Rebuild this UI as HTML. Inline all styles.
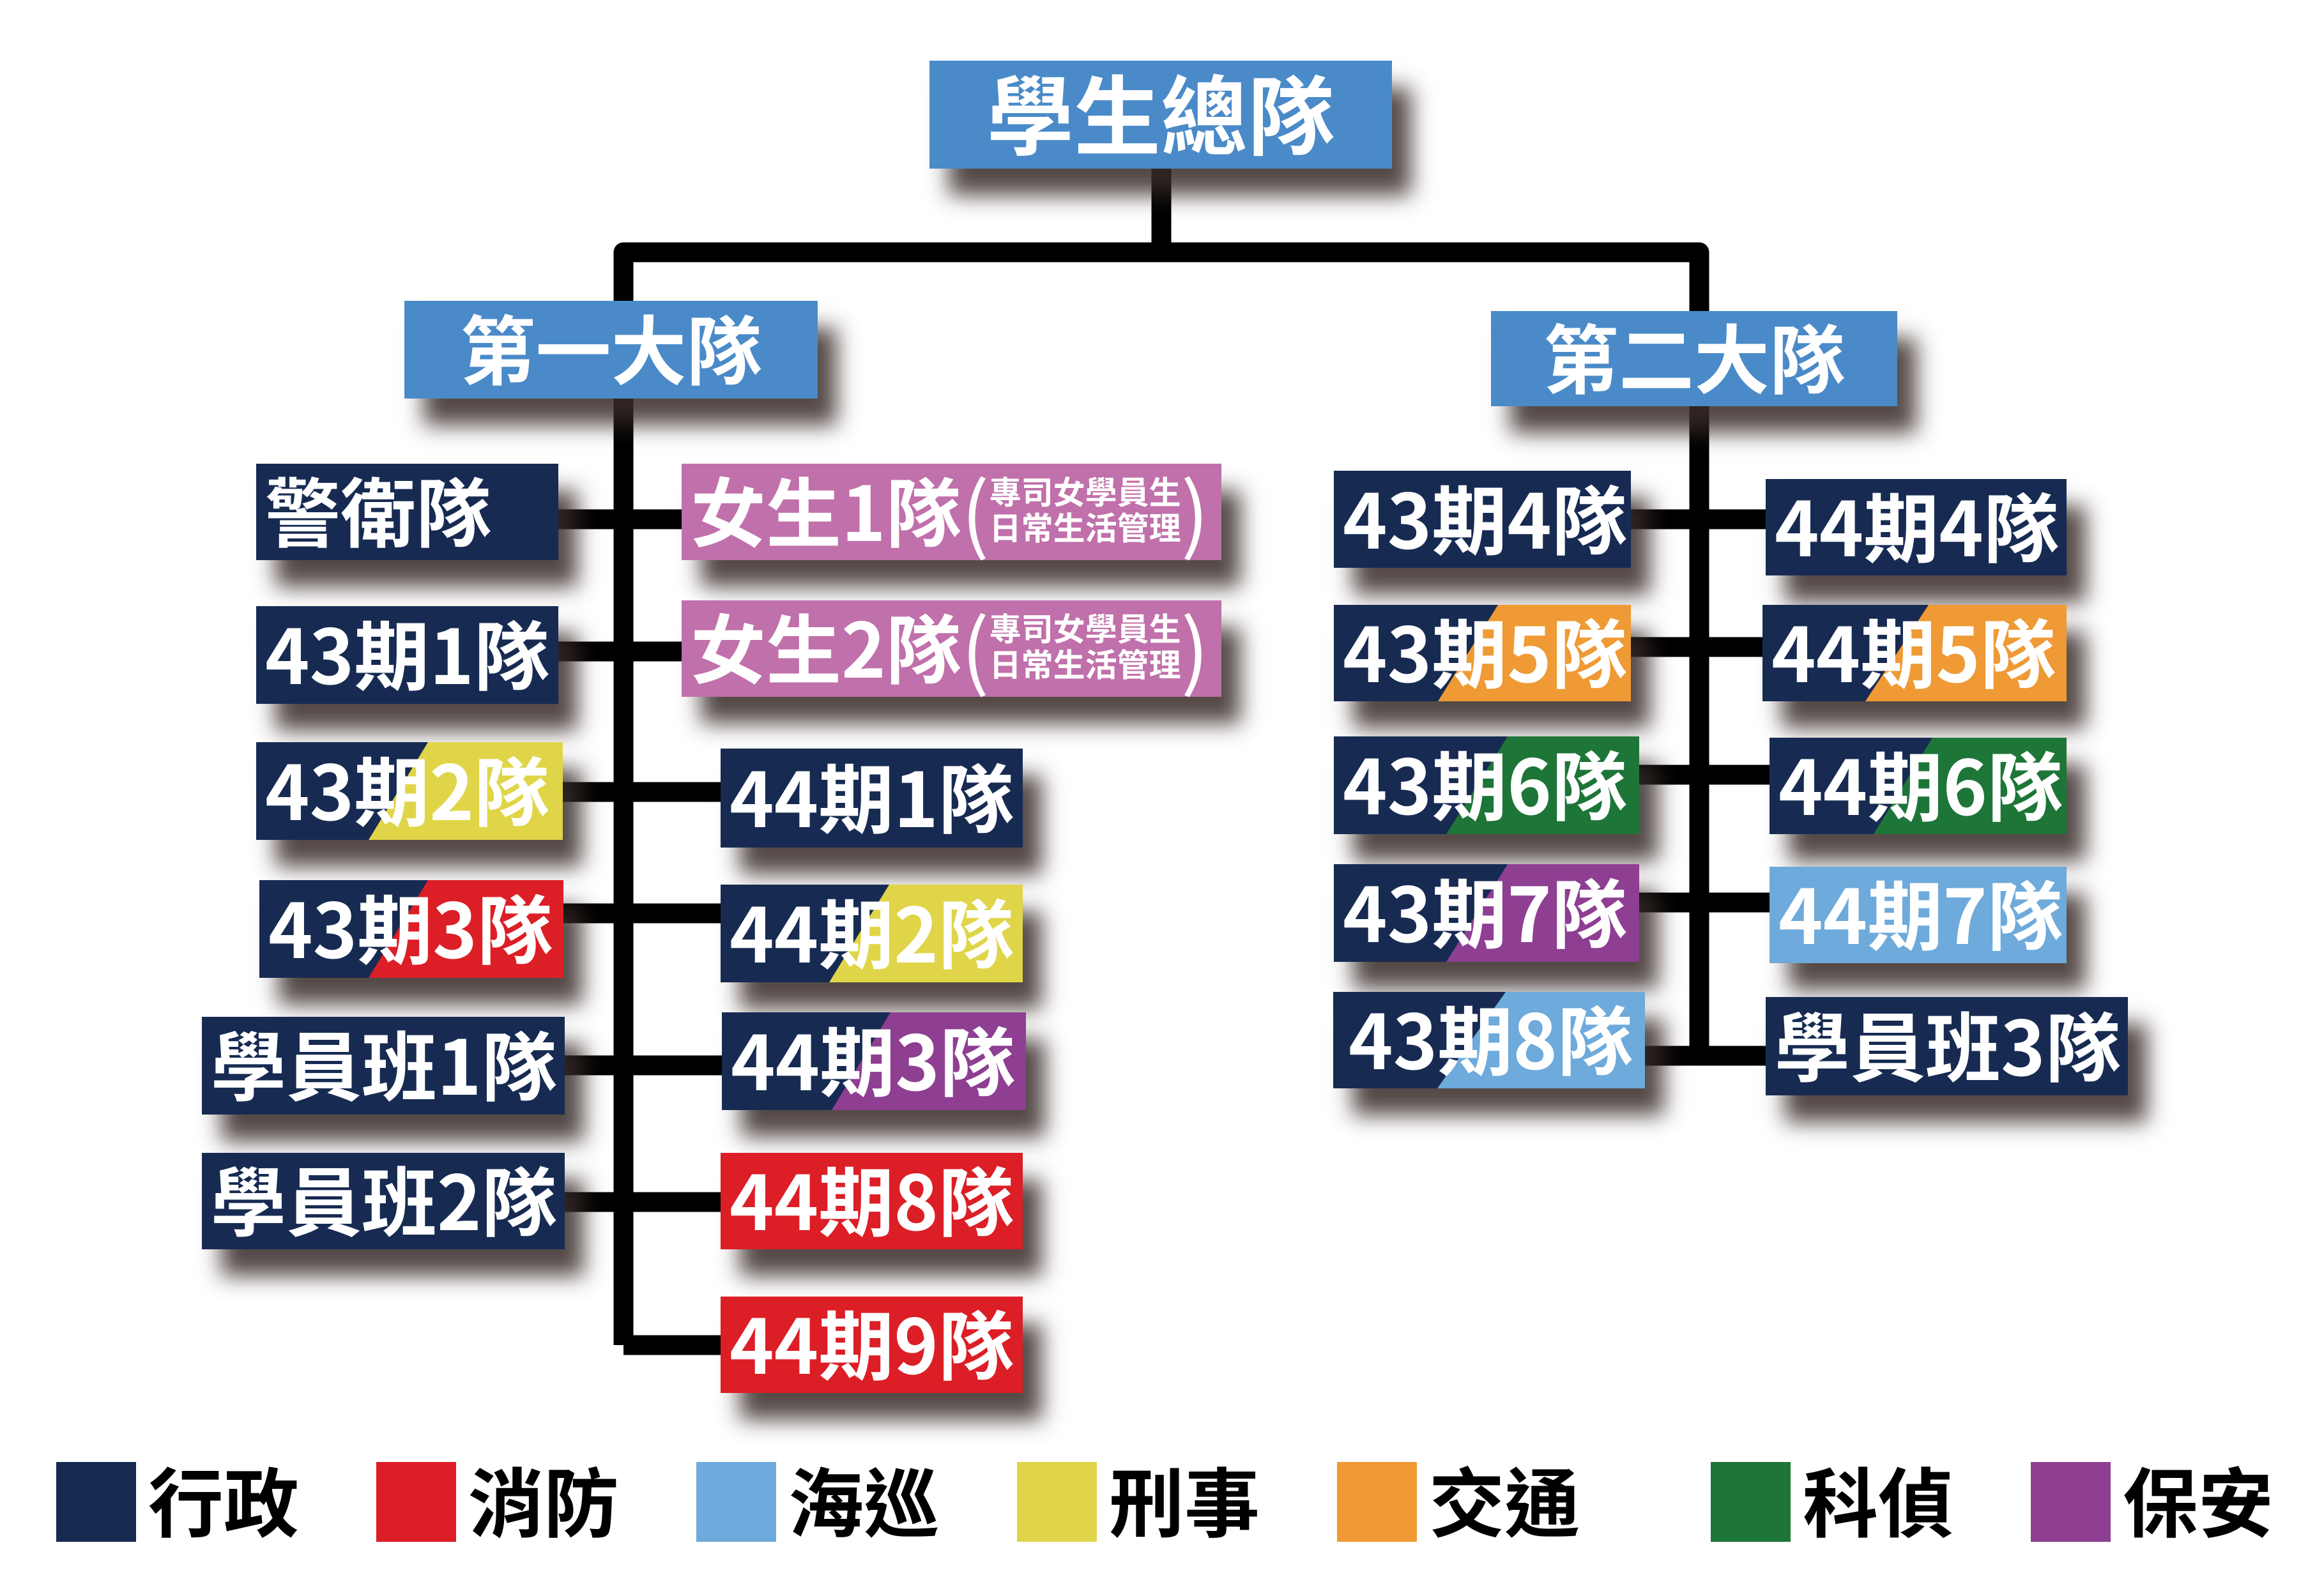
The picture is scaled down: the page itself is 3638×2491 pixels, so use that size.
<!DOCTYPE html>
<html><head><meta charset="utf-8">
<style>
html,body{margin:0;padding:0;background:#fff;}
#c{position:relative;width:3638px;height:2491px;overflow:hidden;background:#fff;font-family:"Liberation Sans","Noto Sans CJK TC",sans-serif;}
.b{position:absolute;box-sizing:border-box;color:#fff;display:flex;align-items:center;padding-left:14px;padding-bottom:12px;white-space:nowrap;box-shadow:30px 42px 32px rgba(55,42,40,0.85);font-family:"Noto Sans CJK TC","Liberation Sans",sans-serif;font-weight:700;font-size:118px;letter-spacing:0px;background:#172b52;overflow:visible;z-index:2;}
.b span.t{position:relative;z-index:2;}
.b .d{position:absolute;top:0;bottom:0;left:0;right:0;z-index:1;}
.hd{justify-content:center;padding-left:0;background:#4a8ac8;letter-spacing:0;}
.lg{position:absolute;top:2289px;width:125px;height:125px;}
.lt{position:absolute;top:2266px;font-family:"Noto Sans CJK TC",sans-serif;font-weight:700;font-size:118px;color:#000;line-height:160px;}
.sm{display:flex;flex-direction:column;font-size:50px;line-height:56px;letter-spacing:0;}
.pr{font-weight:400;font-size:130px;}
</style></head><body><div id="c">
<svg width="3638" height="2491" style="position:absolute;left:0;top:0;z-index:1" fill="none" stroke="#000" stroke-width="31" stroke-linejoin="round">
<path d="M1818 264 V395"/>
<path d="M976 2106 V395 H2660 V1653"/>
<path d="M976 2106 H1128"/>
<path d="M874 813 H1067 M874 1020 H1067 M881 1240 H1128 M882 1430 H1128 M884 1668 H1130 M884 1882 H1128"/>
<path d="M2553 813 H2764 M2553 1013 H2759 M2566 1213 H2772 M2566 1413 H2772 M2575 1653 H2764"/>
</svg>

<div class="b hd" style="left:1455px;top:95px;width:724px;height:169px;font-size:136px;">學生總隊</div>
<div class="b hd" style="left:633px;top:471px;width:647px;height:153px;font-size:118px;">第一大隊</div>
<div class="b hd" style="left:2334px;top:487px;width:636px;height:149px;font-size:118px;">第二大隊</div>

<div class="b" style="left:401px;top:726px;width:473px;height:151px;"><span class="t">警衛隊</span></div>
<div class="b" style="left:401px;top:949px;width:473px;height:153px;"><span class="t">43期1隊</span></div>
<div class="b" style="left:401px;top:1162px;width:480px;height:153px;"><div class="d" style="background:#e0d548;clip-path:polygon(269px 0,100% 0,100% 100%,176px 100%)"></div><span class="t">43期2隊</span></div>
<div class="b" style="left:406px;top:1378px;width:476px;height:153px;"><div class="d" style="background:#dc1e26;clip-path:polygon(264px 0,100% 0,100% 100%,171px 100%)"></div><span class="t">43期3隊</span></div>
<div class="b" style="left:316px;top:1592px;width:568px;height:153px;"><span class="t">學員班1隊</span></div>
<div class="b" style="left:316px;top:1805px;width:568px;height:151px;"><span class="t">學員班2隊</span></div>

<div class="b" style="left:1067px;top:726px;width:845px;height:151px;background:#c070aa;"><span class="t">女生1隊</span><span class="t pr">(</span><span class="t sm"><span>專司女學員生</span><span>日常生活管理</span></span><span class="t pr">)</span></div>
<div class="b" style="left:1067px;top:940px;width:845px;height:151px;background:#c070aa;"><span class="t">女生2隊</span><span class="t pr">(</span><span class="t sm"><span>專司女學員生</span><span>日常生活管理</span></span><span class="t pr">)</span></div>
<div class="b" style="left:1128px;top:1172px;width:473px;height:155px;"><span class="t">44期1隊</span></div>
<div class="b" style="left:1128px;top:1385px;width:473px;height:153px;"><div class="d" style="background:#e0d548;clip-path:polygon(264px 0,100% 0,100% 100%,170px 100%)"></div><span class="t">44期2隊</span></div>
<div class="b" style="left:1130px;top:1585px;width:476px;height:153px;"><div class="d" style="background:#8e3f92;clip-path:polygon(264px 0,100% 0,100% 100%,172px 100%)"></div><span class="t">44期3隊</span></div>
<div class="b" style="left:1128px;top:1805px;width:473px;height:151px;background:#dc1e26;"><span class="t">44期8隊</span></div>
<div class="b" style="left:1128px;top:2030px;width:473px;height:151px;background:#dc1e26;"><span class="t">44期9隊</span></div>

<div class="b" style="left:2088px;top:737px;width:465px;height:152px;"><span class="t">43期4隊</span></div>
<div class="b" style="left:2088px;top:947px;width:465px;height:151px;"><div class="d" style="background:#ef9a35;clip-path:polygon(257px 0,100% 0,100% 100%,163px 100%)"></div><span class="t">43期5隊</span></div>
<div class="b" style="left:2088px;top:1153px;width:478px;height:153px;"><div class="d" style="background:#1e7538;clip-path:polygon(272px 0,100% 0,100% 100%,176px 100%)"></div><span class="t">43期6隊</span></div>
<div class="b" style="left:2088px;top:1353px;width:478px;height:153px;"><div class="d" style="background:#8e3f92;clip-path:polygon(272px 0,100% 0,100% 100%,176px 100%)"></div><span class="t">43期7隊</span></div>
<div class="b" style="left:2087px;top:1553px;width:488px;height:151px;padding-left:24px;"><div class="d" style="background:#6eaadb;clip-path:polygon(270px 0,100% 0,100% 100%,163px 100%)"></div><span class="t">43期8隊</span></div>

<div class="b" style="left:2764px;top:750px;width:471px;height:151px;"><span class="t">44期4隊</span></div>
<div class="b" style="left:2759px;top:947px;width:476px;height:151px;"><div class="d" style="background:#ef9a35;clip-path:polygon(260px 0,100% 0,100% 100%,161px 100%)"></div><span class="t">44期5隊</span></div>
<div class="b" style="left:2770px;top:1155px;width:465px;height:151px;"><div class="d" style="background:#1e7538;clip-path:polygon(255px 0,100% 0,100% 100%,163px 100%)"></div><span class="t">44期6隊</span></div>
<div class="b" style="left:2770px;top:1357px;width:465px;height:151px;background:#6eaadb;"><span class="t">44期7隊</span></div>
<div class="b" style="left:2764px;top:1561px;width:567px;height:154px;"><span class="t">學員班3隊</span></div>

<div class="lg" style="left:88px;background:#172b52"></div><div class="lt" style="left:232px">行政</div>
<div class="lg" style="left:589px;background:#dc1e26"></div><div class="lt" style="left:733px">消防</div>
<div class="lg" style="left:1090px;background:#6eaadb"></div><div class="lt" style="left:1234px">海巡</div>
<div class="lg" style="left:1592px;background:#e0d548"></div><div class="lt" style="left:1736px">刑事</div>
<div class="lg" style="left:2093px;background:#ef9a35"></div><div class="lt" style="left:2237px">交通</div>
<div class="lg" style="left:2678px;background:#1e7538"></div><div class="lt" style="left:2822px">科偵</div>
<div class="lg" style="left:3179px;background:#8e3f92"></div><div class="lt" style="left:3323px">保安</div>
</div></body></html>
